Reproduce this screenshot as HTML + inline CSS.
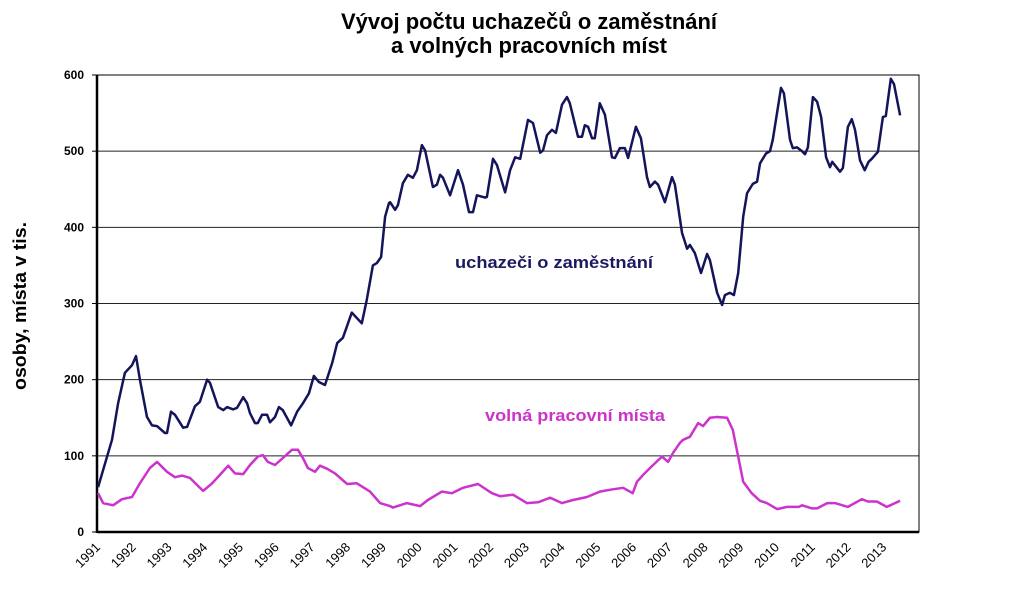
<!DOCTYPE html>
<html><head><meta charset="utf-8"><style>
html,body{margin:0;padding:0;background:#fff;}
svg{display:block;font-family:"Liberation Sans",Arial,sans-serif;}
</style></head><body>
<svg id="chart" width="1024" height="594" viewBox="0 0 1024 594" xmlns="http://www.w3.org/2000/svg">
<rect width="1024" height="594" fill="#fff"/>
<text x="529" y="29" text-anchor="middle" font-size="22" font-weight="bold" textLength="376" lengthAdjust="spacingAndGlyphs">Vývoj počtu uchazečů o zaměstnání</text>
<text x="529" y="53" text-anchor="middle" font-size="22" font-weight="bold" textLength="276" lengthAdjust="spacingAndGlyphs">a volných pracovních míst</text>
<text transform="translate(26,306) rotate(-90)" text-anchor="middle" font-size="18" font-weight="bold" textLength="168" lengthAdjust="spacingAndGlyphs">osoby, místa v tis.</text>
<g id="grid"></g>
<g id="yticks"></g>
<g id="xticks"></g>
<g id="series"></g>
<text x="455" y="268" font-size="17" font-weight="bold" fill="#1a1a5e" textLength="198" lengthAdjust="spacingAndGlyphs">uchazeči o zaměstnání</text>
<text x="485" y="421" font-size="17" font-weight="bold" fill="#cc33cc" textLength="180" lengthAdjust="spacingAndGlyphs">volná pracovní místa</text>
</svg>
<script>
const yTicks = [0,100,200,300,400,500,600];
const xYears = [1991,1992,1993,1994,1995,1996,1997,1998,1999,2000,2001,2002,2003,2004,2005,2006,2007,2008,2009,2010,2011,2012,2013];
const blueT = [0.03,0.42,0.59,0.78,0.98,1.09,1.20,1.40,1.54,1.68,1.90,1.96,2.07,2.18,2.41,2.52,2.74,2.88,3.08,3.16,
3.39,3.53,3.64,3.81,3.92,4.09,4.20,4.28,4.42,4.50,4.62,4.76,4.84,4.98,5.09,5.20,5.43,5.60,5.76,5.93,
6.07,6.21,6.38,6.58,6.72,6.88,7.13,7.41,7.55,7.72,7.83,7.95,8.06,8.17,8.20,8.34,8.42,8.56,8.70,8.84,
8.95,9.09,9.18,9.40,9.51,9.60,9.68,9.88,10.10,10.24,10.41,10.52,10.63,10.86,10.91,11.08,11.19,11.42,11.56,11.70,
11.84,12.06,12.20,12.40,12.48,12.59,12.73,12.84,13.01,13.15,13.23,13.46,13.57,13.65,13.74,13.85,13.93,14.07,14.21,14.41,
14.49,14.63,14.77,14.86,15.08,15.22,15.39,15.47,15.61,15.70,15.89,16.09,16.17,16.37,16.51,16.59,16.73,16.90,17.07,17.15,
17.35,17.49,17.57,17.71,17.82,17.94,18.08,18.19,18.35,18.47,18.55,18.72,18.83,18.91,19.14,19.22,19.39,19.47,19.59,19.73,
19.81,19.89,20.03,20.15,20.26,20.40,20.51,20.57,20.79,20.87,21.01,21.12,21.21,21.35,21.48,21.59,21.68,21.79,21.85,21.99,
22.07,22.21,22.30,22.47];
const blueV = [59,121,169,209,219,231,200,151,140,139,130,130,158,154,137,138,165,171,200,196,
164,160,164,161,163,177,169,156,143,143,154,154,144,151,164,160,140,158,169,182,
205,197,193,222,248,255,288,274,305,350,353,361,414,432,433,423,429,458,469,465,
475,508,501,453,456,469,465,442,475,456,420,420,442,439,440,490,482,446,475,492,
490,541,537,498,501,521,528,524,561,571,563,519,519,534,532,517,517,563,548,492,
491,504,504,491,532,517,466,453,460,456,433,466,456,393,372,377,366,340,365,357,
314,298,311,314,311,340,414,445,457,460,484,497,500,515,583,576,515,504,505,500,
496,505,571,565,545,492,479,486,473,478,532,542,528,488,475,486,490,496,499,545,
546,595,588,547];
const pinkT = [0.03,0.17,0.45,0.70,0.98,1.20,1.48,1.68,1.96,2.18,2.38,2.60,2.97,3.22,3.44,3.67,3.86,4.09,4.28,4.50,
4.64,4.78,4.98,5.20,5.46,5.62,5.76,5.90,6.10,6.24,6.44,6.66,7.00,7.27,7.64,7.92,8.20,8.28,8.67,9.04,
9.26,9.65,9.93,10.24,10.66,11.05,11.28,11.64,12.03,12.34,12.68,13.01,13.32,13.71,14.07,14.43,14.72,14.99,15.11,15.28,
15.56,15.81,15.98,16.12,16.31,16.40,16.59,16.82,16.96,17.15,17.35,17.63,17.79,17.94,18.08,18.32,18.55,18.74,19.03,19.31,
19.64,19.73,20.01,20.15,20.43,20.65,21.01,21.40,21.57,21.82,22.10,22.47];
const pinkV = [51,38,35,43,46,64,84,92,79,72,74,71,54,64,75,87,77,76,88,99,
101,92,88,97,108,108,97,84,79,87,83,77,63,64,53,38,34,32,38,34,
42,53,51,58,63,51,47,49,38,39,45,38,42,46,53,56,58,51,66,75,
88,99,92,104,117,121,125,143,139,150,151,150,134,99,66,51,41,38,30,33,
33,35,31,31,38,38,33,43,40,40,33,41];

const NS = "http://www.w3.org/2000/svg";
const X0 = 97, X1 = 919, Y0 = 532, Y1 = 75;
const xScale = t => X0 + t * (X1 - X0) / 23;
const yScale = v => Y0 - v * (Y0 - Y1) / 600;
function mk(tag, attrs, parent) {
  const el = document.createElementNS(NS, tag);
  for (const k in attrs) el.setAttribute(k, attrs[k]);
  parent.appendChild(el);
  return el;
}
const grid = document.getElementById('grid');
const yt = document.getElementById('yticks');
const xt = document.getElementById('xticks');
const ser = document.getElementById('series');

yTicks.forEach(v => {
  if (v > 0) {
    const g = mk('line', {x1: X0, x2: X1, y1: yScale(v), y2: yScale(v), stroke: '#222', 'stroke-width': 1}, grid);
    
    
  }
  const tk = mk('line', {x1: X0 - 5, x2: X0, y1: yScale(v), y2: yScale(v), stroke: '#000', 'stroke-width': 1}, yt);
  
  
  const tx = mk('text', {x: 84, y: yScale(v) + 4, 'text-anchor': 'end', 'font-size': 12, 'font-weight': 'bold'}, yt);
  
  
  tx.textContent = v;
});
const fr = mk('rect', {x: X0, y: Y1, width: X1 - X0, height: Y0 - Y1, fill: 'none', stroke: '#000', 'stroke-width': 1}, grid);


const ax = mk('line', {x1: X0, x2: X0, y1: Y1, y2: Y0 + 1, stroke: '#000', 'stroke-width': 2.5}, yt);


const bx = mk('line', {x1: X0, x2: X1, y1: Y0, y2: Y0, stroke: '#000', 'stroke-width': 2.5}, xt);



xYears.forEach(y => {
  const x = xScale(y - 1991);
  const t = mk('text', {'text-anchor': 'end', 'font-size': 13, transform: 'translate(' + (x + 4) + ',' + (Y0 + 16) + ') rotate(-45)'}, xt);
  
  
  t.textContent = y;
});

function linePath(T, V) {
  return T.map((t, i) => (i ? 'L' : 'M') + xScale(t).toFixed(1) + ',' + yScale(V[i]).toFixed(1)).join('');
}
const pp = mk('path', {d: linePath(pinkT, pinkV), fill: 'none', stroke: '#cc33cc', 'stroke-width': 2.5, 'stroke-linejoin': 'round'}, ser);


const bp = mk('path', {d: linePath(blueT, blueV), fill: 'none', stroke: '#14145a', 'stroke-width': 2.5, 'stroke-linejoin': 'round'}, ser);


</script>
</body></html>
